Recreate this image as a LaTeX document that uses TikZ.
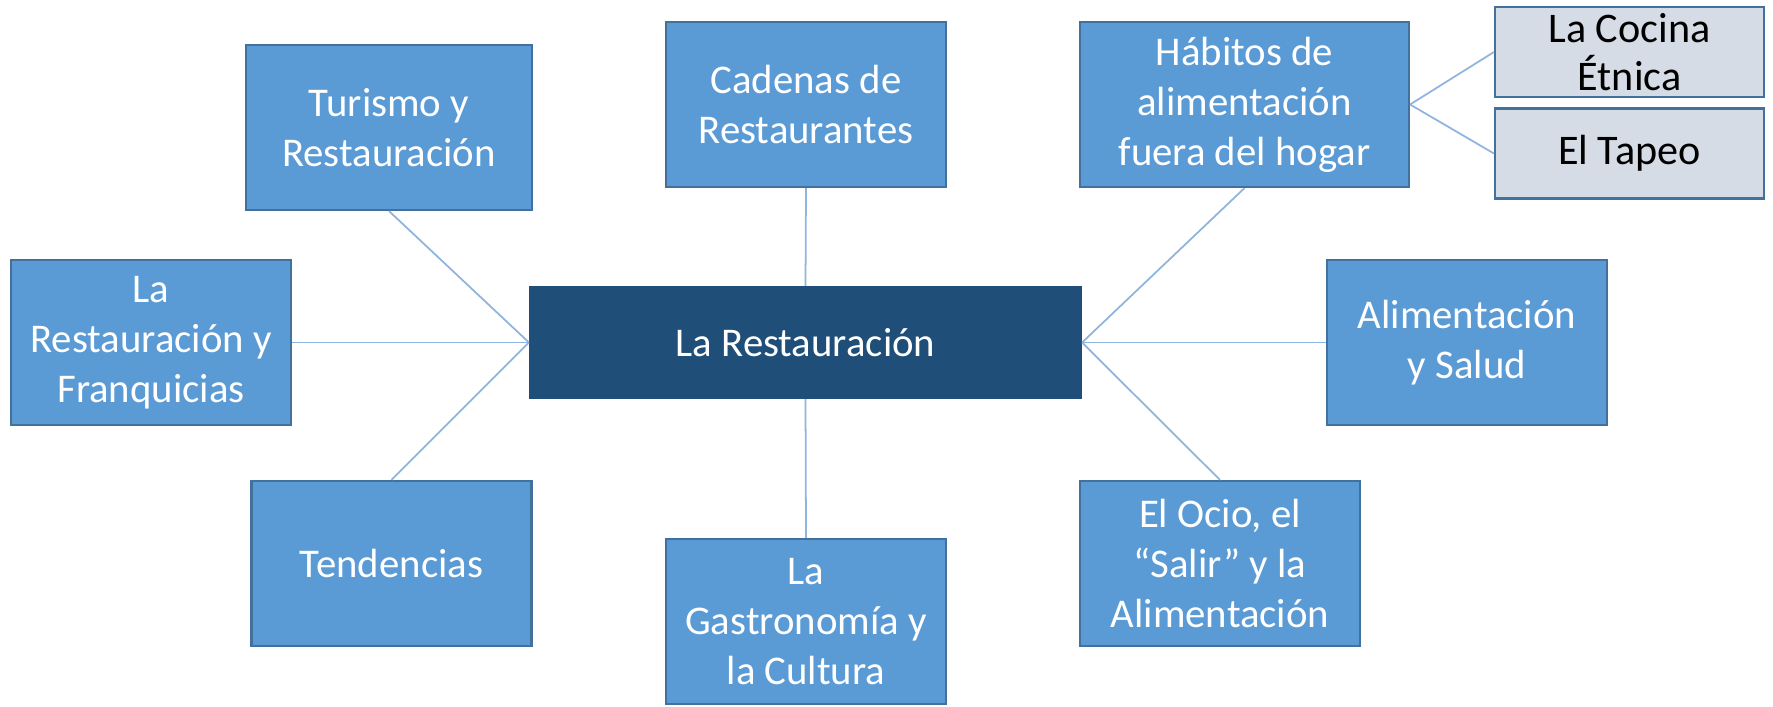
\documentclass[tikz,border=0pt]{standalone}
\usepackage{fontspec}
\setmainfont{Carlito}
\definecolor{boxblue}{HTML}{5B9BD5}
\definecolor{boxedge}{HTML}{41719C}
\definecolor{hubblue}{HTML}{1F4E79}
\definecolor{subgray}{HTML}{D6DCE5}
\definecolor{linkblue}{HTML}{8FB4DE}
\begin{document}
\begin{tikzpicture}[x=1.0cm,y=1.0cm,
    topic/.style={draw=boxedge,line width=0.6pt,fill=boxblue,text=white,align=center,
      minimum width=2.8cm,minimum height=1.65cm,inner sep=0pt,
      font=\fontsize{11.6}{14.2}\selectfont},
    hub/.style={topic,fill=hubblue,draw=hubblue,minimum width=5.51cm,minimum height=1.11cm},
    subtopic/.style={topic,fill=subgray,text=black,minimum width=2.69cm,minimum height=0.9cm,
      font=\fontsize{12}{13.6}\selectfont},
    link/.style={draw=linkblue,line width=0.5pt}]
      \useasboundingbox (0,0) rectangle (17.73,7.06);
      % centre and the boxes round it
      \node[hub] (rest) at (8.055,3.635) {La Restauración};
      \node[topic,minimum width=2.86cm] (turismo) at (3.89,5.785) {Turismo y\\Restauración};
      \node[topic] (cadenas) at (8.06,6.015) {Cadenas de\\Restaurantes};
      \node[topic,minimum width=3.29cm] (habitos) at (12.445,6.015) {Hábitos de\\alimentación\\fuera del hogar};
      \node[subtopic] (cocina) at (16.295,6.54) {La Cocina\\Étnica};
      \node[subtopic] (tapeo) at (16.295,5.525) {El Tapeo};
      \node[topic] (franq) at (1.51,3.635) {La\\Restauración y\\Franquicias};
      \node[topic] (salud) at (14.67,3.635) {Alimentación\\y Salud};
      \node[topic] (tend) at (3.915,1.425) {Tendencias};
      \node[topic] (gastro) at (8.06,0.845) {La\\Gastronomía y\\la Cultura};
      \node[topic] (ocio) at (12.20,1.425) {El Ocio, el\\“Salir” y la\\Alimentación};
      \draw[link] (rest.west) -- (turismo.south);
      \draw[link] (rest.west) -- (franq.east);
      \draw[link] (rest.west) -- (tend.north);
      \draw[link] (rest.north) -- (cadenas.south);
      \draw[link] (rest.south) -- (gastro.north);
      \draw[link] (rest.east) -- (habitos.south);
      \draw[link] (rest.east) -- (salud.west);
      \draw[link] (rest.east) -- (ocio.north);
      \draw[link] (habitos.east) -- (cocina.west);
      \draw[link] (habitos.east) -- (tapeo.west);
\end{tikzpicture}
\end{document}
